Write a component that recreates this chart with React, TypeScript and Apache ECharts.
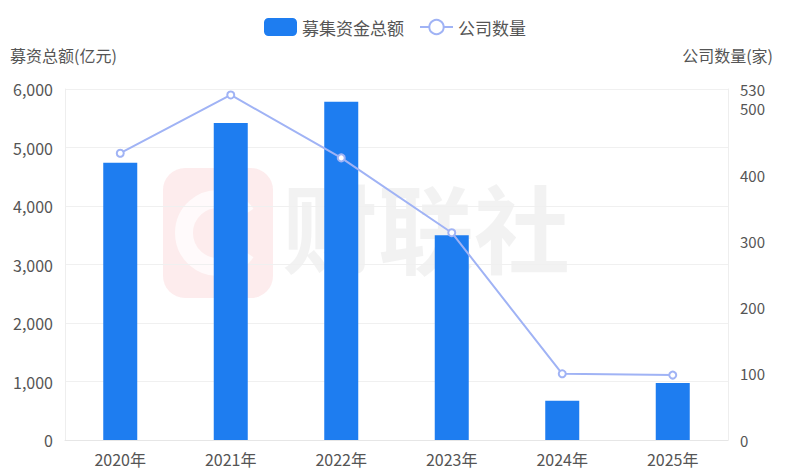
import React, { useEffect, useRef } from "react";
import * as echarts from "echarts";

const categories = ["2020年", "2021年", "2022年", "2023年", "2024年", "2025年"];
const fundsRaised = [4740, 5420, 5780, 3500, 670, 975];
const companyCount = [433, 521, 426, 313, 100, 98];

const FONT = "'Noto Sans CJK SC', 'Noto Sans', sans-serif";

export default function App() {
  const ref = useRef<HTMLDivElement>(null);
  useEffect(() => {
    if (!ref.current) return;
    const chart = echarts.init(ref.current, null, { renderer: "svg" });
    chart.setOption({
      animation: false,
      textStyle: { fontFamily: FONT },
      legend: {
        top: 13,
        left: "center",
        itemWidth: 33,
        itemHeight: 18,
        itemGap: 15,
        textStyle: { fontSize: 17, color: "#555", fontFamily: FONT },
        data: [
          { name: "募集资金总额", icon: "roundRect" },
          { name: "公司数量" },
        ],
      },
      graphic: [
        {
          type: "rect",
          z: 0,
          silent: true,
          shape: { x: 163, y: 168, width: 110, height: 130, r: 22 },
          style: { fill: "rgba(235, 80, 95, 0.11)" },
        },
        {
          type: "arc",
          z: 0,
          silent: true,
          shape: { cx: 218, cy: 233, r: 34, startAngle: 0.6, endAngle: -0.6, clockwise: true },
          style: { stroke: "rgba(255,255,255,0.75)", lineWidth: 18, fill: "none" },
        },
        {
          type: "text",
          z: 0,
          silent: true,
          left: 282,
          top: 176,
          style: {
            text: "财联社",
            fontSize: 96,
            fontWeight: "bold",
            fontFamily: FONT,
            fill: "rgba(0,0,0,0.05)",
          },
        },
        {
          type: "text",
          left: 10,
          top: 47,
          style: { text: "募资总额(亿元)", fontSize: 16, fill: "#555", fontFamily: FONT },
        },
        {
          type: "text",
          right: 17,
          top: 47,
          style: { text: "公司数量(家)", fontSize: 16, fill: "#555", fontFamily: FONT },
        },
      ],
      grid: { left: 65, right: 62, top: 89, bottom: 30, containLabel: false },
      xAxis: {
        type: "category",
        data: categories,
        axisLine: { show: true, lineStyle: { color: "#e6e6e6" } },
        axisTick: { show: false },
        axisLabel: { color: "#555", fontSize: 16, margin: 11, fontFamily: FONT },
      },
      yAxis: [
        {
          type: "value",
          min: 0,
          max: 6000,
          interval: 1000,
          axisLine: { show: true, lineStyle: { color: "#eeeeee" } },
          axisTick: { show: false },
          axisLabel: {
            color: "#555",
            fontSize: 16,
            margin: 12,
            fontFamily: FONT,
            formatter: (v: number) => v.toLocaleString("en-US"),
          },
          splitLine: { show: true, lineStyle: { color: "#f0f0f0" } },
        },
        {
          type: "value",
          min: 0,
          max: 530,
          interval: 100,
          axisLine: { show: true, lineStyle: { color: "#eeeeee" } },
          axisTick: { show: false },
          axisLabel: { color: "#555", fontSize: 15, lineHeight: 16, margin: 12, fontFamily: FONT },
          splitLine: { show: false },
        },
      ],
      series: [
        {
          name: "募集资金总额",
          type: "bar",
          data: fundsRaised,
          barWidth: 34,
          z: 3,
          itemStyle: { color: "#1e7df0" },
        },
        {
          name: "公司数量",
          type: "line",
          yAxisIndex: 1,
          data: companyCount,
          z: 4,
          symbol: "emptyCircle",
          symbolSize: 7,
          lineStyle: { color: "#a0b3f5", width: 2 },
          itemStyle: { color: "#a0b3f5", borderWidth: 1.5 },
        },
      ],
    });
    return () => chart.dispose();
  }, []);
  return <div ref={ref} style={{ width: 790, height: 470, position: "absolute", left: 0, top: 0 }} />;
}
